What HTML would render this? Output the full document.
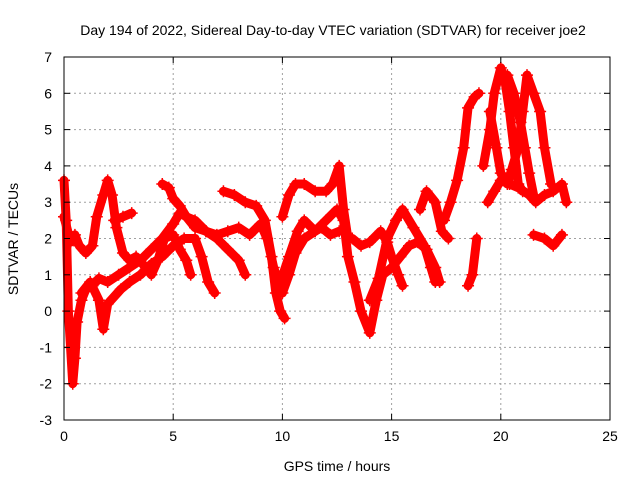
<!DOCTYPE html>
<html><head><meta charset="utf-8"><style>
body{margin:0;background:#fff}
svg text{font-family:"Liberation Sans",sans-serif;font-size:14px;fill:#000}
</style></head><body>
<svg id="chart" width="640" height="480" xmlns="http://www.w3.org/2000/svg">
<text x="333" y="35" text-anchor="middle">Day 194 of 2022, Sidereal Day-to-day VTEC variation (SDTVAR) for receiver joe2</text>
<text x="337" y="471" text-anchor="middle">GPS time / hours</text>
<text transform="translate(18,239) rotate(-90)" text-anchor="middle">SDTVAR / TECUs</text>
<g id="grid"></g><g id="marks"></g><g id="axes"></g>
</svg>
<script>
const xTicks=[0,5,10,15,20,25];
const yTicks=[-3,-2,-1,0,1,2,3,4,5,6,7];
const track1=[[0,3.6],[0.1,2.5],[0.2,0],[0.3,-1],[0.4,-2],[0.5,-1.3],[0.6,-0.3],[0.8,0.3],[1,0.6],[1.3,0.7],[1.6,0.9],[2,0.8],[2.5,1],[3,1.2],[3.5,1.4],[4,1.7],[4.5,2],[5,2.4],[5.3,2.7],[5.6,2.6],[6,2.5],[6.5,2.2],[7,2.1],[7.5,2.2],[8,2.3],[8.5,2.1],[9,2.4],[9.3,2],[9.6,1.2],[10,0.5],[10.3,1],[10.6,1.6],[11,2],[11.5,2.2],[12,2.5],[12.5,2.8],[12.8,2.5],[13,1.5],[13.3,0.8],[13.6,0],[14,-0.6],[14.3,0.3],[14.6,1],[15,1.2],[15.4,1.5],[15.8,1.8],[16.2,1.9],[16.6,1.7],[17,1.2],[17.2,0.8]];
const track2=[[0,2.6],[0.3,1.9],[0.5,2.1],[0.7,1.8],[1,1.6],[1.3,1.8],[1.5,2.6],[1.8,3.2],[2,3.6],[2.2,3.2],[2.4,2.3],[2.7,1.6],[3,1.4],[3.3,1.5],[3.6,1.3],[4,1],[4.3,1.4],[4.6,2],[5,2.1],[5.3,1.7],[5.6,1.4],[5.8,1]];
const track3=[[2.3,2.5],[2.7,2.6],[3.1,2.7]];
const track4=[[0.8,0.5],[1.2,0.8],[1.6,0.3],[1.8,-0.5],[2,0.2],[2.6,0.6],[3,0.8],[3.5,1],[4,1.3],[4.5,1.5],[5,1.8],[5.5,2],[6,2],[6.3,1.5],[6.6,0.8],[6.9,0.5]];
const track5=[[4.5,3.5],[4.8,3.4],[5,3.1],[5.3,2.9],[5.6,2.6],[6,2.3],[6.5,2.2],[7,2],[7.5,1.7],[8,1.4],[8.3,1]];
const track6=[[7.3,3.3],[7.8,3.2],[8.3,3],[8.8,2.9],[9.2,2.5],[9.5,1.5],[9.7,0.5],[9.9,0],[10.1,-0.2]];
const track7=[[10,2.6],[10.3,3.2],[10.6,3.5],[11,3.5],[11.5,3.3],[12,3.3],[12.3,3.5],[12.6,4],[12.8,2.8],[13,2]];
const track8=[[9.8,0.6],[10.3,1.5],[10.7,2.2],[11,2.5],[11.5,2.2],[11.8,2.3],[12.2,2.1],[12.6,2.2]];
const track9=[[13.2,2],[13.6,1.8],[14,1.9],[14.5,2.2],[14.8,1.9],[15,1.5],[15.3,1],[15.5,0.7]];
const track10=[[14,0.3],[14.4,0.9],[14.8,2],[15.2,2.5],[15.5,2.8],[16,2.3],[16.5,1.8],[16.8,1.2],[17,0.8]];
const track11=[[16.3,2.8],[16.6,3.3],[17,3],[17.3,2.2],[17.6,2]];
const track12=[[17.4,2.5],[17.7,3],[18,3.6],[18.3,4.5],[18.5,5.6],[18.8,5.9],[19,6]];
const track13=[[18.5,0.7],[18.7,1],[18.9,2]];
const track14=[[19.2,4],[19.5,5],[19.7,6],[20,6.7],[20.2,6.3],[20.4,5.5],[20.6,4.5],[20.8,3.5],[21,3.3]];
const track15=[[19.5,5.5],[19.8,4.5],[20,3.8],[20.3,3.5],[20.5,3.9],[20.8,4.5],[21,5.5],[21.2,6.5],[21.5,6],[21.8,5.5],[22,4.5],[22.3,3.5]];
const track16=[[19.4,3],[19.7,3.3],[20,3.6],[20.4,3.5],[20.8,3.4],[21.3,3.2],[21.6,3],[22,3.2],[22.4,3.3],[22.8,3.5],[23,3]];
const track17=[[21.5,2.1],[22,2],[22.4,1.8],[22.8,2.1]];
const track18=[[20.3,6.5],[20.6,6],[20.9,5.2],[21.1,4.5],[21.3,3.8],[21.5,3.2]];
const tracks=[track1,track2,track3,track4,track5,track6,track7,track8,track9,track10,track11,track12,track13,track14,track15,track16,track17,track18];

const X0=64,X1=610,Y0=420,Y1=57;
const sx=t=>X0+(t-0)/(25-0)*(X1-X0);
const sy=v=>Y0-(v+3)/(7+3)*(Y0-Y1);
const NS="http://www.w3.org/2000/svg";
const mk=(tag,attrs,parent)=>{const e=document.createElementNS(NS,tag);for(const k in attrs)e.setAttribute(k,attrs[k]);parent.appendChild(e);return e;};
const grid=document.getElementById('grid'),marks=document.getElementById('marks'),axes=document.getElementById('axes');
xTicks.forEach(t=>{
  if(t>0&&t<25){const g=mk('line',{x1:sx(t),x2:sx(t),y1:Y0,y2:Y1,stroke:'#a0a0a0','stroke-dasharray':'2,3'},grid);
  
  }
  const l=mk('text',{x:sx(t),y:Y0+21,'text-anchor':'middle'},axes);l.textContent=t;
  
  
  mk('line',{x1:sx(t),x2:sx(t),y1:Y0,y2:Y0-6,stroke:'#000'},axes);
  mk('line',{x1:sx(t),x2:sx(t),y1:Y1,y2:Y1+6,stroke:'#000'},axes);
});
yTicks.forEach(v=>{
  if(v>-3&&v<7){const g=mk('line',{x1:X0,x2:X1,y1:sy(v),y2:sy(v),stroke:'#a0a0a0','stroke-dasharray':'2,3'},grid);
  
  }
  const l=mk('text',{x:X0-12,y:sy(v)+5,'text-anchor':'end'},axes);l.textContent=v;
  
  
  mk('line',{x1:X0,x2:X0+6,y1:sy(v),y2:sy(v),stroke:'#000'},axes);
  mk('line',{x1:X1,x2:X1-6,y1:sy(v),y2:sy(v),stroke:'#000'},axes);
});
const fr=mk('rect',{x:X0,y:Y1,width:X1-X0,height:Y0-Y1,fill:'none',stroke:'#000'},axes);


tracks.forEach(tr=>{
  const pl=mk('polyline',{points:tr.map(p=>sx(p[0])+','+sy(p[1])).join(' '),fill:'none',stroke:'#ff0000','stroke-width':9,'stroke-linejoin':'round','stroke-linecap':'round'},marks);
  
  
  tr.forEach(p=>{
    const x=sx(p[0]),y=sy(p[1]);
    const m=mk('path',{d:`M${x-6},${y}H${x+6}M${x},${y-6}V${y+6}`,stroke:'#ff0000','stroke-width':1.5},marks);
    
    
  });
});
</script>
</body></html>
